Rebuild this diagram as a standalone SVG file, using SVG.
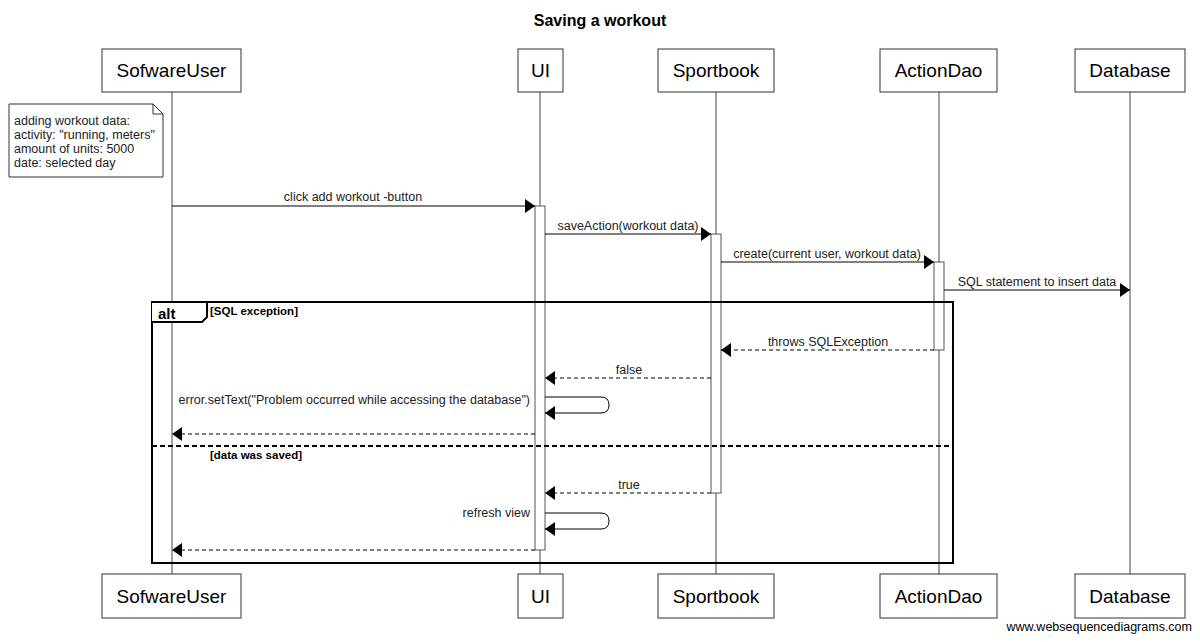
<svg xmlns="http://www.w3.org/2000/svg" width="1200" height="642" viewBox="0 0 1200 642">
<style>
text{font-family:"Liberation Sans",Arial,sans-serif;fill:#000}
.box{fill:#fff;stroke:#333;stroke-width:1}
.pname{font-size:19px;text-anchor:middle}
.life{stroke:#444;stroke-width:1}
.act{fill:#fff;stroke:#555;stroke-width:1}
.msg{stroke:#000;stroke-width:1;fill:none}
.ret{stroke:#000;stroke-width:1;fill:none;stroke-dasharray:4,3}
.lbl{font-size:12.5px;fill:#222}
.mid{text-anchor:middle}
.end{text-anchor:end}
.frame{fill:none;stroke:#000;stroke-width:2}
.guard{font-size:11.5px;font-weight:bold}
</style>
<defs>
<marker id="ah" markerUnits="userSpaceOnUse" markerWidth="10" markerHeight="14" refX="10" refY="7" orient="auto">
<path d="M0,0 L10,7 L0,14 z" fill="#000"/>
</marker>
</defs>
<rect width="1200" height="642" fill="#fff"/>
<text x="600" y="26" font-size="16" font-weight="bold" text-anchor="middle">Saving a workout</text>

<g id="lifelines">
<line class="life" x1="172" y1="92" x2="172" y2="574"/>
<line class="life" x1="540" y1="92" x2="540" y2="574"/>
<line class="life" x1="716" y1="92" x2="716" y2="574"/>
<line class="life" x1="939" y1="92" x2="939" y2="574"/>
<line class="life" x1="1130" y1="92" x2="1130" y2="574"/>
</g>

<g id="SofwareUser">
<rect class="box" x="102" y="49" width="139" height="43"/>
<text class="pname" x="171.5" y="77">SofwareUser</text>
<rect class="box" x="102" y="574" width="139" height="44"/>
<text class="pname" x="171.5" y="603">SofwareUser</text>
</g>
<g id="UI">
<rect class="box" x="518" y="49" width="45" height="43"/>
<text class="pname" x="540.5" y="77">UI</text>
<rect class="box" x="518" y="574" width="45" height="44"/>
<text class="pname" x="540.5" y="603">UI</text>
</g>
<g id="Sportbook">
<rect class="box" x="658" y="49" width="116" height="43"/>
<text class="pname" x="716" y="77">Sportbook</text>
<rect class="box" x="658" y="574" width="116" height="44"/>
<text class="pname" x="716" y="603">Sportbook</text>
</g>
<g id="ActionDao">
<rect class="box" x="880" y="49" width="117" height="43"/>
<text class="pname" x="938.5" y="77">ActionDao</text>
<rect class="box" x="880" y="574" width="117" height="44"/>
<text class="pname" x="938.5" y="603">ActionDao</text>
</g>
<g id="Database">
<rect class="box" x="1075" y="49" width="110" height="43"/>
<text class="pname" x="1130" y="77">Database</text>
<rect class="box" x="1075" y="574" width="110" height="44"/>
<text class="pname" x="1130" y="603">Database</text>
</g>

<g id="note">
<path d="M9,104 H153 L163,114 V177 H9 Z" fill="#fff" stroke="#333"/>
<path d="M153,104 V114 H163" fill="none" stroke="#333"/>
<text class="lbl" x="14" y="125">adding workout data:</text>
<text class="lbl" x="14" y="139">activity: "running, meters"</text>
<text class="lbl" x="14" y="153">amount of units: 5000</text>
<text class="lbl" x="14" y="167">date: selected day</text>
</g>

<g id="activations">
<rect class="act" x="535" y="206" width="10" height="344"/>
<rect class="act" x="711" y="234" width="10" height="259"/>
<rect class="act" x="934" y="262" width="10" height="88"/>
</g>

<g id="alt-frame">
<rect class="frame" x="152" y="302" width="801" height="261"/>
<path d="M152,302 H207 V317 L202,322 H152" fill="#fff" stroke="#000" stroke-width="2"/>
<text x="158" y="319" font-size="15" font-weight="bold">alt</text>
<text class="guard" x="210" y="315">[SQL exception]</text>
<line x1="152" y1="446" x2="953" y2="446" stroke="#000" stroke-width="2" stroke-dasharray="5,3"/>
<text class="guard" x="210" y="459">[data was saved]</text>
</g>

<g id="connectors">
<line class="msg" x1="172" y1="206" x2="535" y2="206" marker-end="url(#ah)"/>
<text class="lbl mid" x="353" y="201">click add workout -button</text>
<line class="msg" x1="545" y1="234" x2="711" y2="234" marker-end="url(#ah)"/>
<text class="lbl mid" x="628" y="230">saveAction(workout data)</text>
<line class="msg" x1="721" y1="262" x2="934" y2="262" marker-end="url(#ah)"/>
<text class="lbl mid" x="827" y="258">create(current user, workout data)</text>
<line class="msg" x1="944" y1="290" x2="1130" y2="290" marker-end="url(#ah)"/>
<text class="lbl mid" x="1037" y="286">SQL statement to insert data</text>
<line class="ret" x1="934" y1="350" x2="721" y2="350" marker-end="url(#ah)"/>
<text class="lbl mid" x="828" y="346">throws SQLException</text>
<line class="ret" x1="711" y1="378" x2="545" y2="378" marker-end="url(#ah)"/>
<text class="lbl mid" x="629" y="374">false</text>
<path class="msg" d="M545,397 H601 Q609,397 609,405 Q609,413 601,413 H545" marker-end="url(#ah)"/>
<text class="lbl end" x="530" y="404">error.setText("Problem occurred while accessing the database")</text>
<line class="ret" x1="535" y1="434" x2="172" y2="434" marker-end="url(#ah)"/>
<line class="ret" x1="711" y1="493" x2="545" y2="493" marker-end="url(#ah)"/>
<text class="lbl mid" x="629" y="489">true</text>
<path class="msg" d="M545,513 H601 Q609,513 609,521 Q609,529 601,529 H545" marker-end="url(#ah)"/>
<text class="lbl end" x="530" y="517">refresh view</text>
<line class="ret" x1="535" y1="550" x2="172" y2="550" marker-end="url(#ah)"/>
</g>

<text x="1192" y="631" font-size="12.5" fill="#333" text-anchor="end">www.websequencediagrams.com</text>
</svg>
